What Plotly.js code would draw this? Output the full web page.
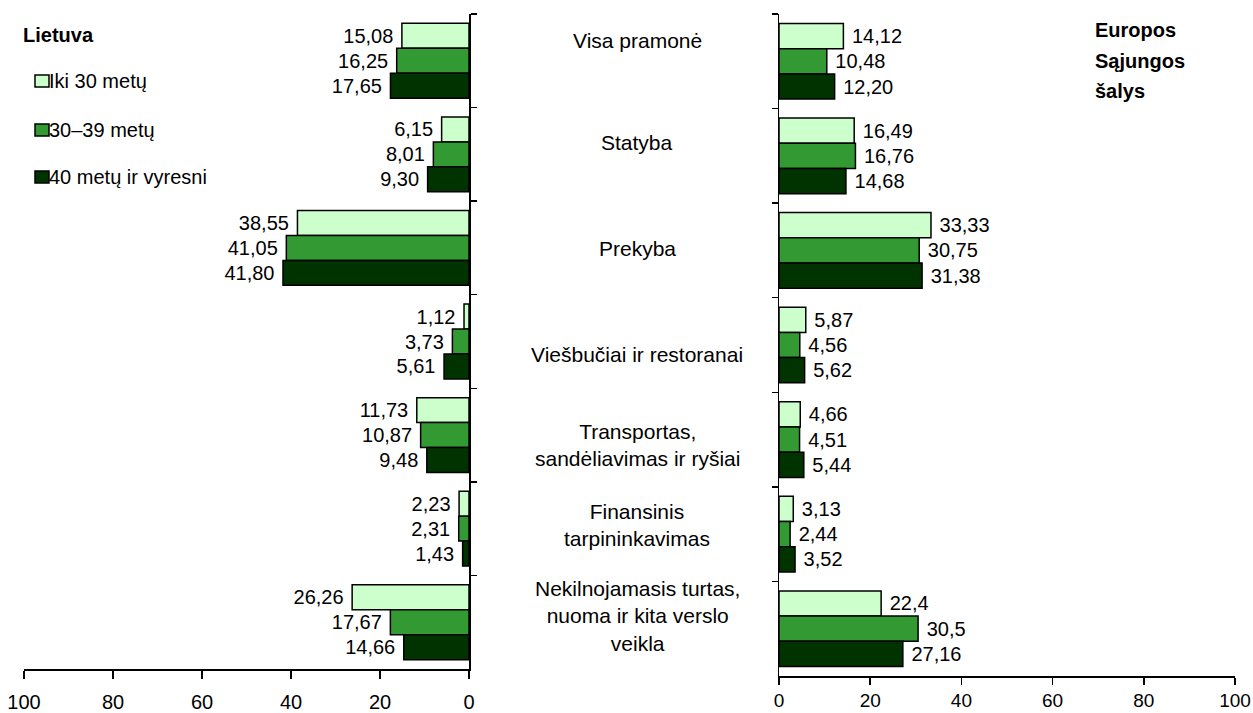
<!DOCTYPE html>
<html>
<head>
<meta charset="utf-8">
<script src="https://cdn.plot.ly/plotly-3.0.1.min.js"></script>
<style>html,body{margin:0;padding:0;background:#fff;}#chart{width:1253px;height:713px;}</style>
</head>
<body>
<div id="chart"></div>
<script>
// ---- data ----
const categories = ["Visa pramonė", "Statyba", "Prekyba", "Viešbučiai ir restoranai",
  "Transportas, sandėliavimas ir ryšiai", "Finansinis tarpininkavimas",
  "Nekilnojamasis turtas, nuoma ir kita verslo veikla"];
const categoryLabels = ["Visa pramonė", "Statyba", "Prekyba", "Viešbučiai ir restoranai",
  "Transportas,<br>sandėliavimas ir ryšiai", "Finansinis<br>tarpininkavimas",
  "Nekilnojamasis turtas,<br>nuoma ir kita verslo<br>veikla"];
const seriesNames = ["Iki 30 metų", "30–39 metų", "40 metų ir vyresni"];

const ltUnder30 = [15.08, 6.15, 38.55, 1.12, 11.73, 2.23, 26.26];
const lt30to39  = [16.25, 8.01, 41.05, 3.73, 10.87, 2.31, 17.67];
const lt40plus  = [17.65, 9.30, 41.80, 5.61, 9.48, 1.43, 14.66];

const euUnder30 = [14.12, 16.49, 33.33, 5.87, 4.66, 3.13, 22.4];
const eu30to39  = [10.48, 16.76, 30.75, 4.56, 4.51, 2.44, 30.5];
const eu40plus  = [12.20, 14.68, 31.38, 5.62, 5.44, 3.52, 27.16];
// decimals printed on the labels
const ltDecimals = [[2,2,2,2,2,2,2],[2,2,2,2,2,2,2],[2,2,2,2,2,2,2]];
const euDecimals = [[2,2,2,2,2,2,1],[2,2,2,2,2,2,1],[2,2,2,2,2,2,2]];

const xTickVals = [0, 20, 40, 60, 80, 100];
const leftTitle = "<b>Lietuva</b>";
const rightTitleLines = ["<b>Europos</b>", "<b>Sąjungos</b>", "<b>šalys</b>"];

// ---- style ----
const colors = ["#ccffcc", "#339933", "#003300"];
const W = 1253, H = 713;
const FONT = "Arial, 'Liberation Sans', sans-serif";
const px = x => x / W;
const py = y => 1 - y / H;
const NB = "\u00a0";

const fmt = (vals, dec) => vals.map((v, i) => v.toFixed(dec[i]).replace('.', ','));

const ltSeries = [ltUnder30, lt30to39, lt40plus];
const euSeries = [euUnder30, eu30to39, eu40plus];

const traces = [];
ltSeries.forEach((vals, k) => {
  traces.push({
    type: 'bar', orientation: 'h', name: seriesNames[k],
    y: categories, x: vals, xaxis: 'x', yaxis: 'y',
    marker: {color: colors[k], line: {color: '#000', width: 1.5}},
    text: fmt(vals, ltDecimals[k]).map(s => s + NB), textposition: 'outside', cliponaxis: false,
    constraintext: 'none',
    textfont: {family: FONT, size: 20, color: '#000'},
    showlegend: false, hoverinfo: 'x+y'
  });
});
euSeries.forEach((vals, k) => {
  traces.push({
    type: 'bar', orientation: 'h', name: seriesNames[k],
    y: categories, x: vals, xaxis: 'x2', yaxis: 'y2',
    marker: {color: colors[k], line: {color: '#000', width: 1.5}},
    text: fmt(vals, euDecimals[k]).map(s => NB + s), textposition: 'outside', cliponaxis: false,
    constraintext: 'none',
    textfont: {family: FONT, size: 20, color: '#000'},
    showlegend: false, hoverinfo: 'x+y'
  });
});

const annotations = [];
const labelY = [40, 143, 248, 354, 445, 525, 616];
categoryLabels.forEach((t, i) => {
  annotations.push({text: t, xref: 'paper', yref: 'paper', x: px(637), y: py(labelY[i]),
    xanchor: 'center', yanchor: 'middle', showarrow: false, align: 'center',
    font: {family: FONT, size: 21, color: '#000'}});
});
annotations.push({text: leftTitle, xref: 'paper', yref: 'paper', x: px(21), y: py(35),
  xanchor: 'left', yanchor: 'middle', showarrow: false, font: {family: FONT, size: 20, color: '#000'}});
const rtY = [30, 61, 91];
rightTitleLines.forEach((t, i) => {
  annotations.push({text: t, xref: 'paper', yref: 'paper', x: px(1093), y: py(rtY[i]),
    xanchor: 'left', yanchor: 'middle', showarrow: false, font: {family: FONT, size: 20, color: '#000'}});
});
const legY = [81, 130, 177];
const shapes = [];
seriesNames.forEach((n, k) => {
  shapes.push({type: 'rect', xref: 'paper', yref: 'paper',
    x0: px(35), x1: px(49), y0: py(legY[k] + 6), y1: py(legY[k] - 6),
    fillcolor: colors[k], line: {color: '#000', width: 1.5}});
  annotations.push({text: n, xref: 'paper', yref: 'paper', x: px(47), y: py(legY[k]),
    xanchor: 'left', yanchor: 'middle', showarrow: false, font: {family: FONT, size: 20, color: '#000'}});
});

const axisCommon = {showgrid: false, zeroline: false, showline: true, linecolor: '#000', linewidth: 1.5,
  ticks: 'outside', tickcolor: '#000', tickwidth: 1.5, fixedrange: true};

const layout = {
  width: W, height: H, margin: {l: 0, r: 0, t: 0, b: 0},
  paper_bgcolor: '#fff', plot_bgcolor: 'rgba(0,0,0,0)',
  barmode: 'group', bargap: 0.2, bargroupgap: 0,
  showlegend: false,
  font: {family: FONT, size: 19, color: '#000'},
  xaxis: Object.assign({}, axisCommon, {domain: [px(24), px(469)], range: [100, 0], anchor: 'y',
    tickvals: xTickVals, ticklen: 8, ticklabelstandoff: 6, tickfont: {family: FONT, size: 20}}),
  yaxis: Object.assign({}, axisCommon, {domain: [py(669), py(14)], anchor: 'x', side: 'right',
    type: 'category', categoryorder: 'array', categoryarray: categories, autorange: 'reversed',
    tickson: 'boundaries', ticklen: 6, showticklabels: false}),
  xaxis2: Object.assign({}, axisCommon, {domain: [px(779), px(1235)], range: [0, 100], anchor: 'y2',
    tickvals: xTickVals, ticklen: 7, ticklabelstandoff: 0, tickfont: {family: FONT, size: 19}}),
  yaxis2: Object.assign({}, axisCommon, {domain: [py(676), py(14)], anchor: 'x2', side: 'left',
    type: 'category', categoryorder: 'array', categoryarray: categories, autorange: 'reversed',
    tickson: 'boundaries', ticklen: 6, showticklabels: false}),
  annotations: annotations,
  shapes: shapes
};

Plotly.newPlot('chart', traces, layout, {displayModeBar: false, staticPlot: true});
</script>
</body>
</html>
